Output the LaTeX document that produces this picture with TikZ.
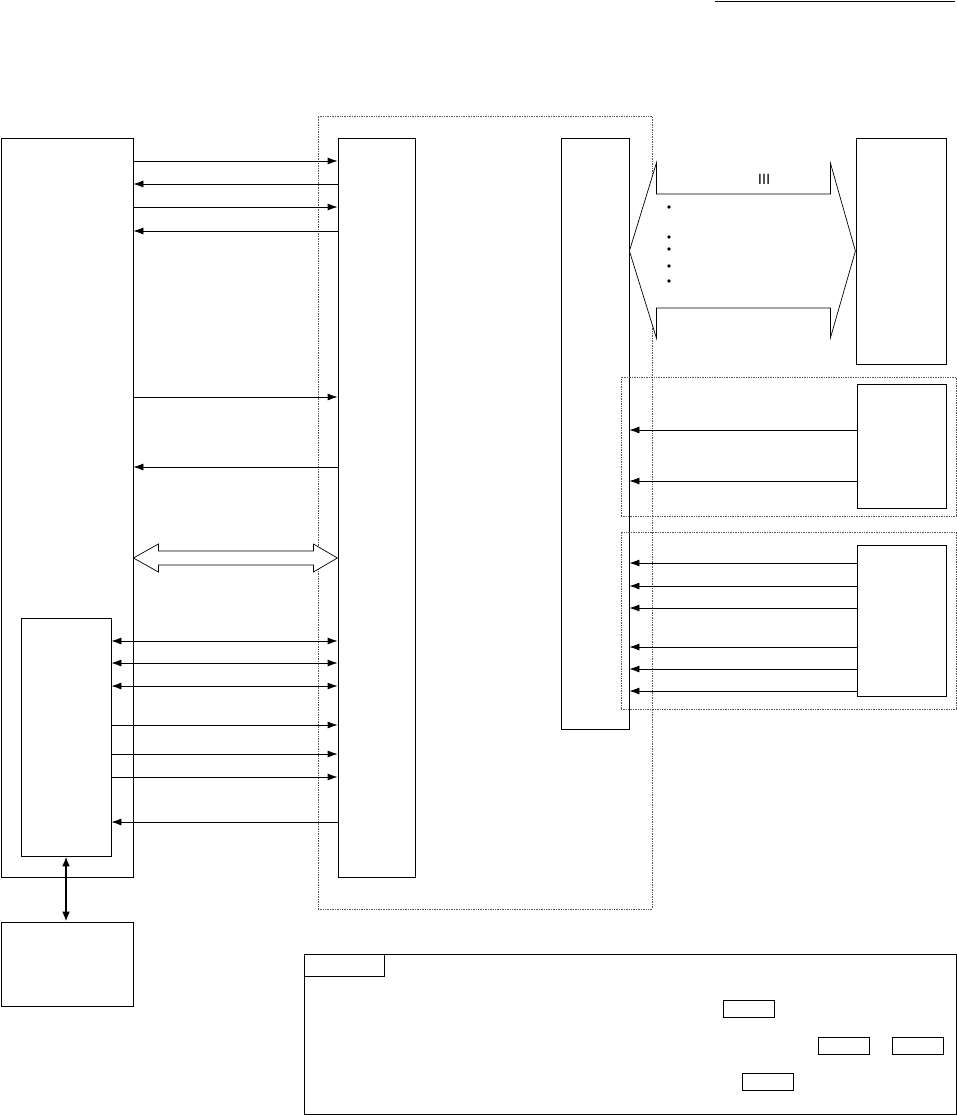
\documentclass[tikz,border=0pt]{standalone}
\usepackage{fontspec}
\newfontfamily\cjk{Noto Sans CJK SC}
\usetikzlibrary{arrows.meta,positioning,calc}
\definecolor{LineGray}{HTML}{555555}

\begin{document}
\begin{tikzpicture}[x=1pt,y=-1pt,
  blk/.style={draw, line width=0.8pt, rectangle, inner sep=0pt},
  grp/.style={draw=LineGray, densely dotted, line width=0.7pt, rectangle, inner sep=0pt},
  sig/.style={line width=0.8pt, -{Latex[length=10pt,width=7pt]}},
  bsig/.style={line width=0.8pt, {Latex[length=10pt,width=7pt]}-{Latex[length=10pt,width=7pt]}},
  hollow/.style={draw, line width=0.7pt, fill=white, line join=miter}
]
\useasboundingbox (0,0) rectangle (957,1115);
\draw[line width=0.8pt] (715,1) -- (955,1);
\node[grp, minimum width=334pt, minimum height=793pt] (core) at (485,512.5) {};
\node[blk, minimum width=132pt, minimum height=739pt] (host) at (67,507.5) {};
\node[blk, minimum width=90pt, minimum height=238pt] (hostin) at (66,737) {};
\node[blk, minimum width=132pt, minimum height=84pt] (ext) at (67,964) {};
\node[blk, minimum width=77pt, minimum height=739pt] (ctrl) at (376.5,507.5) {};
\node[blk, minimum width=68pt, minimum height=591pt] (proc) at (595,433.5) {};
\node[blk, minimum width=90pt, minimum height=226pt] (dev) at (901,251) {};
\node[grp, minimum width=335pt, minimum height=139pt] (grpa) at (788.5,446.5) {};
\node[blk, minimum width=89pt, minimum height=124pt] (sena) at (901.5,446) {};
\node[grp, minimum width=335pt, minimum height=177pt] (grpb) at (788.5,620.5) {};
\node[blk, minimum width=89pt, minimum height=151pt] (senb) at (901.5,620.5) {};
\node[blk, minimum width=652pt, minimum height=160pt] (legend) at (630,1034) {};
\node[blk, minimum width=80pt, minimum height=22pt] (tab) at (344,965) {};
\node[blk, minimum width=51pt, minimum height=17pt] (keya) at (748.5,1008.5) {};
\node[blk, minimum width=51pt, minimum height=17pt] (keyb) at (844,1045.5) {};
\node[blk, minimum width=51pt, minimum height=17pt] (keyc) at (917.5,1045.5) {};
\node[blk, minimum width=51pt, minimum height=17pt] (keyd) at (767.5,1081.5) {};

\foreach \y in {161,207,397}
  \draw[sig] (host.east |- 0,\y) -- (ctrl.west |- 0,\y);
\foreach \y in {184,231,467}
  \draw[sig] (ctrl.west |- 0,\y) -- (host.east |- 0,\y);
\foreach \y in {641,663,686}
  \draw[bsig] (hostin.east |- 0,\y) -- (ctrl.west |- 0,\y);
\foreach \y in {725,754,777}
  \draw[sig] (hostin.east |- 0,\y) -- (ctrl.west |- 0,\y);
\draw[sig] (ctrl.west |- 0,822) -- (hostin.east |- 0,822);
\draw[line width=2pt, {Latex[length=10pt,width=8pt]}-{Latex[length=10pt,width=8pt]}] (hostin.south) -- (ext.north -| hostin.south);

\foreach \y in {430,481}
  \draw[sig] (sena.west |- 0,\y) -- (proc.east |- 0,\y);
\foreach \y in {563,586,608,647,669,691}
  \draw[sig] (senb.west |- 0,\y) -- (proc.east |- 0,\y);

\draw[hollow] (host.east |- 0,558) -- ++(25,-14) -- ++(0,7) -- ++(155,0) -- ++(0,-7) -- ++(24,14)
  -- ++(-24,14) -- ++(0,-7) -- ++(-155,0) -- ++(0,7) -- cycle;
\draw[hollow] (proc.east |- 0,251) -- ++(27,-88) -- ++(0,31) -- ++(174,0) -- ++(0,-31) -- ++(25,88)
  -- ++(-25,87) -- ++(0,-30) -- ++(-174,0) -- ++(0,30) -- cycle;
\node[inner sep=0pt] (bus) at (764,179) {\cjk\fontsize{14pt}{14pt}\selectfont Ⅲ};
\foreach \y in {207,237,249,266,281}
  \fill (669,\y) circle (1.8pt);
\end{tikzpicture}
\end{document}
